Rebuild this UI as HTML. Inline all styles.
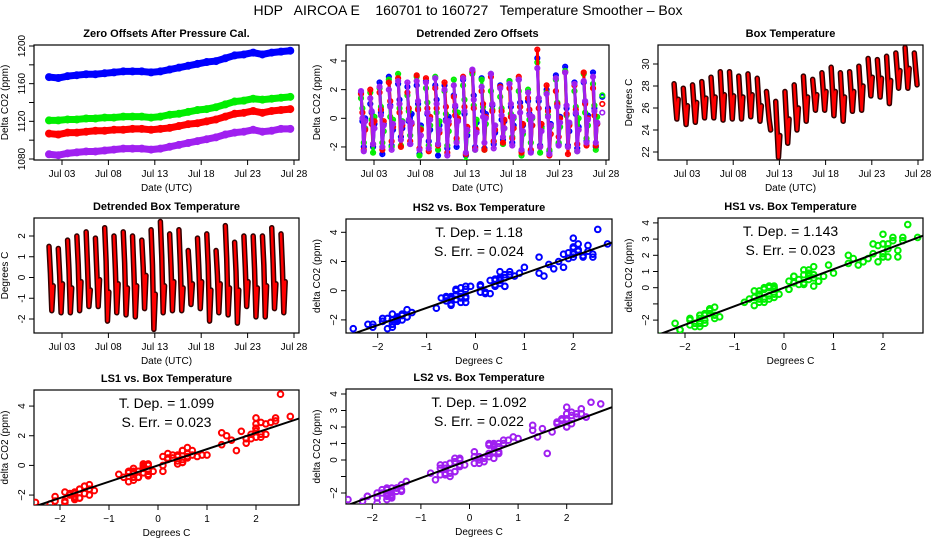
<!DOCTYPE html>
<html><head><meta charset="utf-8">
<style>
body{margin:0;background:#fff;}
svg{display:block;font-family:"Liberation Sans",sans-serif;}
</style></head>
<body>
<svg id="chart" width="936" height="540" viewBox="0 0 936 540" xmlns="http://www.w3.org/2000/svg">
<rect x="0" y="0" width="936" height="540" fill="#fff"/>
<text x="468" y="15" text-anchor="middle" font-size="14" style="white-space:pre" xml:space="preserve">HDP   AIRCOA E    160701 to 160727   Temperature Smoother – Box</text>
</svg>
<script>
// ---- data ----
const dayTicks = [3, 8, 13, 18, 23, 28];
const dayTickLabels = ["Jul 03", "Jul 08", "Jul 13", "Jul 18", "Jul 23", "Jul 28"];
const dailyStart = 1.6;
const sampleOffsets = [0, 0.15, 0.3, 0.45];
const hs2Zero = [1167,1166,1168,1169,1170,1170,1171,1172,1173,1173,1173,1172,1173,1175,1177,1179,1181,1183,1184,1187,1190,1191,1193,1191,1193,1194,1195];
const hs1Zero = [1121,1121,1122,1122,1123,1123,1124,1124,1125,1125,1125,1124,1125,1127,1128,1130,1132,1133,1135,1138,1141,1142,1144,1143,1144,1145,1146];
const ls1Zero = [1107,1106,1108,1108,1109,1110,1110,1111,1111,1112,1112,1111,1112,1113,1115,1117,1118,1120,1122,1125,1128,1129,1131,1129,1131,1132,1133];
const ls2Zero = [1085,1084,1086,1087,1088,1088,1089,1090,1091,1091,1091,1090,1091,1093,1095,1097,1099,1101,1103,1106,1108,1109,1111,1109,1110,1112,1112];
const boxTemp = [28.2,26.5,25.0,26.8, 27.8,26.0,24.5,26.2, 28.1,26.3,24.7,26.5, 28.4,26.7,25.1,26.9, 28.8,26.9,25.1,27.0,
 29.3,27.0,24.9,27.2, 29.3,27.1,25.0,27.1, 28.9,26.9,25.0,27.0, 29.1,27.1,25.2,27.2, 28.7,26.7,24.8,26.2,
 27.5,26.2,24.9,24.0, 26.6,24.0,21.5,23.5, 27.5,25.1,22.8,25.0, 28.1,26.0,24.0,26.0, 28.9,26.8,24.8,27.0,
 28.6,27.2,25.8,27.2, 29.2,27.5,25.8,27.5, 29.7,27.5,25.3,27.5, 29.2,27.0,24.8,27.0, 29.3,27.5,25.7,27.5,
 29.8,27.8,25.8,28.0, 30.5,28.8,27.1,28.8, 30.4,28.7,27.0,28.7, 30.7,28.5,26.4,28.5, 31.0,29.4,27.8,29.4,
 31.5,29.6,27.8,29.6, 31.0,29.5,28.1];
const boxDetr = [1.5,0.2,-1.6,-0.4, 1.4,0.1,-1.7,-0.3, 1.8,0.4,-1.7,-0.5, 2.0,0.6,-1.6,-0.2, 2.2,0.5,-1.4,-0.6,
 1.9,0.3,-1.4,-0.1, 2.4,0.8,-2.1,-0.7, 2.0,0.4,-1.7,-0.3, 2.2,0.7,-1.8,-0.5, 2.0,0.2,-1.9,-0.4,
 1.8,0.5,-1.5,0.1, 2.3,0.6,-2.5,-0.8, 2.7,1.0,-1.7,-0.4, 2.1,0.5,-1.6,-0.2, 2.3,0.6,-1.6,-0.5,
 1.3,0.2,-1.3,-0.3, 1.9,0.4,-1.5,-0.2, 2.1,0.6,-2.1,-0.6, 1.3,0.1,-1.7,-0.3, 2.5,0.9,-1.8,-0.5,
 1.7,0.3,-2.2,-0.6, 2.0,0.5,-1.4,-0.2, 2.0,0.4,-1.9,-0.5, 2.0,0.6,-1.9,-0.4, 2.4,0.7,-1.5,-0.3,
 2.1,0.5,-1.7,-0.2, 1.6];
const hs2Detr = [1.8,-0.2,-2.0,0.0, 1.0,0.4,-2.0,-0.4, 2.5,0.4,-2.5,-0.4, 2.9,0.9,-1.9,-0.8, 2.4,1.3,-1.3,-0.7,
 2.2,-0.2,-1.8,0.3, 2.3,1.0,-2.5,-0.5, 2.6,0.3,-1.6,-0.8, 2.3,1.3,-2.6,-0.5, 2.3,-0.1,-2.1,0.1,
 1.6,0.8,-2.0,-0.1, 2.7,0.3,-2.6,-1.2, 3.2,1.6,-2.0,-0.3, 2.8,0.5,-2.1,0.3, 3.1,0.9,-1.8,-1.0,
 2.3,-0.1,-1.5,-0.2, 2.6,0.8,-1.7,-0.5, 2.7,1.1,-2.3,-0.5, 1.2,0.3,-2.3,-0.5, 4.2,1.2,-1.9,-0.6,
 2.0,0.7,-2.3,-0.4, 3.0,0.9,-1.8,0.1, 3.6,0.7,-1.9,-0.9, 2.5,0.3,-2.1,-0.6, 2.5,1.1,-1.6,0.2,
 3.2,0.7,-2.0,-0.4, 1.5];
const hs1Detr = [1.4,0.7,-1.7,-0.7, 1.8,-0.1,-2.4,0.1, 2.1,0.8,-1.7,-0.9, 2.7,0.1,-2.0,-0.1, 3.1,0.7,-1.9,-0.2,
 1.6,0.5,-1.2,-0.4, 2.9,0.7,-2.6,-0.7, 2.1,1.1,-1.9,-0.5, 2.9,0.4,-2.2,-0.2, 1.9,0.3,-1.9,-0.9,
 2.7,0.5,-1.6,0.4, 2.3,1.3,-3.0,-0.9, 3.1,0.9,-2.2,-0.1, 2.7,0.8,-2.2,-0.4, 1.9,0.6,-1.6,-0.5,
 1.5,0.7,-1.8,-0.7, 2.6,0.3,-1.3,0.0, 1.9,0.8,-2.6,-1.1, 2.0,-0.1,-1.7,0.0, 3.9,1.4,-2.4,-0.7,
 1.8,0.2,-2.2,-0.6, 2.7,1.1,-1.7,-0.6, 3.3,0.2,-2.0,-0.4, 1.9,0.8,-2.3,0.0, 3.1,0.4,-1.4,-0.5,
 2.4,0.9,-2.2,0.1, 1.6];
const ls1Detr = [1.7,0.4,-2.2,-0.8, 2.0,-0.4,-1.8,-0.2, 1.8,0.6,-2.2,-0.2, 2.5,1.2,-1.6,-0.6, 2.8,0.4,-2.0,-0.5,
 1.8,0.7,-1.6,-0.4, 3.0,0.6,-2.1,-0.8, 2.8,0.7,-2.3,0.1, 2.1,0.7,-1.9,-1.0, 2.5,0.8,-2.4,-0.4,
 1.5,0.2,-1.4,0.0, 2.9,0.8,-2.5,-0.6, 3.3,0.7,-2.1,-0.8, 1.9,1.0,-2.2,0.1, 2.9,0.5,-1.6,-0.8,
 2.2,0.5,-1.7,-0.1, 2.1,0.1,-1.4,-0.7, 2.9,0.8,-2.4,-0.4, 1.4,0.6,-2.2,-0.5, 4.8,0.7,-2.0,-0.4,
 2.3,0.5,-2.6,-1.1, 1.9,1.0,-1.3,0.0, 3.2,0.3,-2.5,-0.5, 2.3,0.6,-1.8,-0.8, 3.2,1.0,-1.9,0.0,
 2.1,0.2,-1.9,-0.4, 1.0];
const ls2Detr = [1.9,0.0,-2.3,-0.2, 1.4,0.5,-1.8,-0.7, 2.2,0.2,-2.0,-0.5, 2.0,0.8,-2.2,-0.4, 2.6,1.0,-1.5,-0.3,
 2.5,-0.1,-1.8,-0.3, 2.6,1.2,-2.2,-1.2, 2.5,0.4,-2.1,-0.1, 2.8,1.0,-1.8,-0.8, 2.0,-0.2,-2.6,-0.2,
 2.3,0.9,-1.7,-0.2, 2.8,0.5,-2.4,-0.8, 3.4,1.3,-2.2,-1.0, 2.2,0.1,-1.7,0.0, 3.1,1.0,-2.1,-0.5,
 2.1,0.2,-1.3,-0.7, 2.4,1.0,-1.9,0.1, 2.7,0.4,-2.2,-0.9, 1.8,0.2,-2.4,0.1, 3.5,1.4,-2.0,-0.9,
 1.7,0.1,-2.5,-0.5, 2.8,0.8,-1.9,-0.3, 3.2,0.9,-2.0,-0.3, 2.4,0.4,-2.3,-0.8, 2.6,1.2,-1.7,-0.1,
 2.9,0.5,-1.7,-0.3, 0.4];
const slopes = [1.18, 1.143, 1.099, 1.092];
const slopeLabels = ["1.18", "1.143", "1.099", "1.092"];
const errLabels = ["0.024", "0.023", "0.023", "0.022"];

const NS = "http://www.w3.org/2000/svg";
const svg = document.getElementById("chart");
const C = {blue:"#0000ff", green:"#00ee00", red:"#ff0000", purple:"#a020f0"};

function mk(tag, attrs, parent) {
  const e = document.createElementNS(NS, tag);
  for (const k in attrs) e.setAttribute(k, attrs[k]);
  (parent || svg).appendChild(e);
  return e;
}
function lin(v1, p1, v2, p2) { return v => p1 + (v - v1) * (p2 - p1) / (v2 - v1); }

function panel(name, box, title, xt, yt) {
  const g = mk("g", {});
  
  
  const r = mk("rect", {x:box.L, y:box.T, width:box.R-box.L, height:box.B-box.T, fill:"none", stroke:"#000", "stroke-width":1.2}, g);
  
  
  const t = mk("text", {x:(box.L+box.R)/2, y:box.T-8, "text-anchor":"middle", "font-size":11, "font-weight":"bold"}, g);
  t.textContent = title;
  
  
  const xl = mk("text", {x:(box.L+box.R)/2, y:box.B+31, "text-anchor":"middle", "font-size":10}, g);
  xl.textContent = xt;
  
  
  const yx = box.L - 26, yy = (box.T+box.B)/2;
  const yl = mk("text", {x:yx, y:yy, "text-anchor":"middle", "font-size":10, transform:`rotate(-90 ${yx} ${yy})`}, g);
  yl.textContent = yt;
  
  
  const cp = mk("clipPath", {id:"clip-"+name}, g);
  mk("rect", {x:box.L, y:box.T, width:box.R-box.L, height:box.B-box.T}, cp);
  const d = mk("g", {"clip-path":`url(#clip-${name})`}, g);
  
  
  return {g, d};
}
function xTicks(p, box, sx, vals, labels) {
  vals.forEach((v, i) => {
    const x = sx(v);
    mk("line", {x1:x, x2:x, y1:box.B, y2:box.B+5, stroke:"#000"}, p.g);
    const t = mk("text", {x:x, y:box.B+17, "text-anchor":"middle", "font-size":10}, p.g);
    t.textContent = labels[i];
    
    
  });
}
function yTicks(p, box, sy, vals, labels) {
  vals.forEach((v, i) => {
    const y = sy(v);
    mk("line", {x1:box.L-5, x2:box.L, y1:y, y2:y, stroke:"#000"}, p.g);
    if (labels[i] !== "") {
      const tx = box.L - 9;
      const t = mk("text", {x:tx, y:y, "text-anchor":"middle", "font-size":10, transform:`rotate(-90 ${tx} ${y})`}, p.g);
      t.textContent = labels[i];
      
      
    }
  });
}
function dots(parent, pts, color, r, sw) {
  pts.forEach(p => {
    const c = mk("circle", {cx:p[0], cy:p[1], r:r, fill:"none", stroke:color, "stroke-width":sw}, parent);
    
    
  });
}
function trace(parent, pts, color, w) {
  const pl = mk("polyline", {points:pts.map(p=>p.join(",")).join(" "), fill:"none", stroke:color, "stroke-width":w, "stroke-linejoin":"round", "stroke-linecap":"round"}, parent);
  
  
}
const n = sampleOffsets.length;
const sampleDay = i => dailyStart + Math.floor(i / n) + sampleOffsets[i % n];
function dailyColumns(series, sx, sy) {
  const cols = [];
  series.forEach((v, i) => {
    const k = Math.floor(i / n);
    (cols[k] = cols[k] || []).push([sx(sampleDay(i)), sy(v)]);
  });
  return cols;
}

// P1 zero offsets
{
  const box = {L:34, R:299, T:45, B:160};
  const sx = lin(3, 62, 28, 294), sy = lin(1080, 159, 1200, 46);
  const p = panel("zero-offsets-panel", box, "Zero Offsets After Pressure Cal.", "Date (UTC)", "Delta CO2 (ppm)");
  xTicks(p, box, sx, dayTicks, dayTickLabels);
  yTicks(p, box, sy, [1080,1100,1120,1140,1160,1180,1200], ["1080","","1120","","1160","","1200"]);
  [[hs2Zero,C.blue],[hs1Zero,C.green],[ls1Zero,C.red],[ls2Zero,C.purple]].forEach(([s,c]) => {
    const pts = s.map((v,i)=>[sx(dailyStart+i), sy(v)]);
    trace(p.d, pts, c, 7);
    dots(p.d, pts, c, 3, 2);
  });
}
// P2 detrended offsets
{
  const box = {L:346, R:609, T:45, B:160};
  const sx = lin(3, 374, 28, 606), sy = lin(0, 118.3, 4, 61);
  const p = panel("detrended-offsets-panel", box, "Detrended Zero Offsets", "Date (UTC)", "Delta CO2 (ppm)");
  xTicks(p, box, sx, dayTicks, dayTickLabels);
  yTicks(p, box, sy, [-2,0,2,4], ["-2","0","2","4"]);
  [[hs2Detr,C.blue],[hs1Detr,C.green],[ls1Detr,C.red],[ls2Detr,C.purple]].forEach(([s,c]) => {
    dailyColumns(s, sx, sy).forEach(col => { trace(p.d, col, c, 3); dots(p.d, col, c, 2.3, 1.6); });
  });
}
// P3 box temperature
{
  const box = {L:658, R:923, T:45, B:160};
  const sx = lin(3, 687, 28, 918), sy = lin(22, 152, 30, 64);
  const p = panel("box-temperature-panel", box, "Box Temperature", "Date (UTC)", "Degrees C");
  xTicks(p, box, sx, dayTicks, dayTickLabels);
  yTicks(p, box, sy, [22,24,26,28,30], ["22","24","26","28","30"]);
  dailyColumns(boxTemp, sx, sy).forEach(col => {
    trace(p.d, col, "#300", 5.5);
    trace(p.d, col, C.red, 2.5);
  });
}
// P4 detrended box temperature
{
  const box = {L:34, R:299, T:218, B:333};
  const sx = lin(3, 62, 28, 294), sy = lin(0, 277.5, 2, 236);
  const p = panel("detrended-box-temp-panel", box, "Detrended Box Temperature", "Date (UTC)", "Degrees C");
  xTicks(p, box, sx, dayTicks, dayTickLabels);
  yTicks(p, box, sy, [-2,-1,0,1,2], ["-2","-1","0","1","2"]);
  dailyColumns(boxDetr, sx, sy).forEach(col => {
    trace(p.d, col, "#300", 5.5);
    trace(p.d, col, C.red, 2.5);
  });
}
// scatter panels
function scatter(name, box, title, x0, xs, y0, ys, yvals, ylabels, series, color, k) {
  const sx = v => x0 + v * xs, sy = v => y0 - v * ys;
  const p = panel(name, box, title, "Degrees C", "delta CO2 (ppm)");
  xTicks(p, box, sx, [-2,-1,0,1,2], ["\u22122","\u22121","0","1","2"]);
  yTicks(p, box, sy, yvals, ylabels);
  dots(p.d, series.map((v,i)=>[sx(boxDetr[i]), sy(v)]), color, 2.8, 2);
  const xa = -3, xb = 3.2;
  const ln = mk("line", {x1:sx(xa), y1:sy(slopes[k]*xa), x2:sx(xb), y2:sy(slopes[k]*xb), stroke:"#000", "stroke-width":2}, p.d);
  
  
  const cx = (box.L + box.R) / 2;
  const t1 = mk("text", {x:cx, y:box.T+18, "text-anchor":"middle", "font-size":14}, p.g);
  t1.textContent = "T. Dep. =  " + slopeLabels[k];
  
  
  const t2 = mk("text", {x:cx, y:box.T+37, "text-anchor":"middle", "font-size":14}, p.g);
  t2.textContent = "S. Err. =  " + errLabels[k];
  
  
}
scatter("hs2-scatter-panel", {L:346,R:612,T:219,B:333}, "HS2 vs. Box Temperature", 475.5, 48.9, 290.7, 14.6,
  [-2,0,2,4], ["\u22122","0","2","4"], hs2Detr, C.blue, 0);
scatter("hs1-scatter-panel", {L:658,R:923,T:218,B:333}, "HS1 vs. Box Temperature", 784, 49.5, 287.7, 16.2,
  [-2,-1,0,1,2,3,4], ["\u22122","","0","1","2","3","4"], hs1Detr, C.green, 1);
scatter("ls1-scatter-panel", {L:34,R:299,T:390,B:505}, "LS1 vs. Box Temperature", 158, 49, 465.4, 14.83,
  [-2,0,2,4], ["\u22122","0","2","4"], ls1Detr, C.red, 2);
scatter("ls2-scatter-panel", {L:346,R:612,T:389,B:504}, "LS2 vs. Box Temperature", 469.5, 48.6, 460, 16.5,
  [-2,-1,0,1,2,3,4], ["\u22122","","0","1","2","3","4"], ls2Detr, C.purple, 3);
</script>
</body></html>
